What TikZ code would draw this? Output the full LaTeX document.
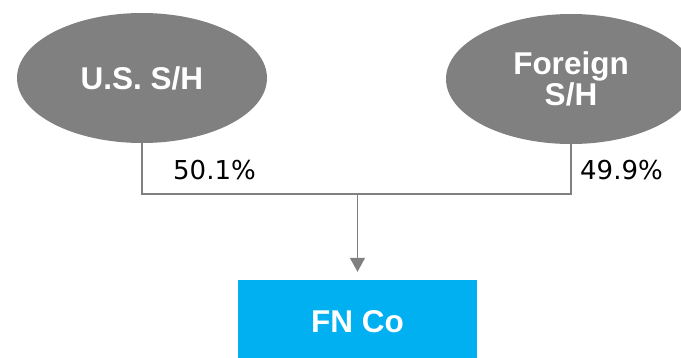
\documentclass[tikz,border=0pt]{standalone}
\usepackage{fontspec}
\setmainfont{Liberation Sans}
\newfontfamily\pctfont{DejaVu Sans}
\usetikzlibrary{shapes.geometric,arrows.meta}
\definecolor{shgray}{HTML}{808080}
\definecolor{fnblue}{HTML}{00B0F0}
\tikzset{
  holder/.style={ellipse, fill=shgray, minimum width=250pt, minimum height=130pt,
    inner sep=0pt, text=white, align=center, font=\bfseries\fontsize{31.5}{31}\selectfont},
  entity/.style={rectangle, fill=fnblue, minimum width=239pt, minimum height=84pt,
    inner sep=0pt, text=white, font=\bfseries\fontsize{31.5}{31}\selectfont},
  pct/.style={anchor=base west, inner sep=0pt, font=\pctfont\fontsize{26}{26}\selectfont},
  link/.style={draw=shgray, line width=1.5pt}
}
\begin{document}
\begin{tikzpicture}[x=1pt,y=-1pt]
    \clip (0,0) rectangle (681,357);

    % Shareholders
    \node[holder] (us) at (142,78) {U.S. S/H};
    \node[holder] (foreign) at (571,79) {Foreign\\S/H};

    % Owned company
    \node[entity] (fnco) at (357.5,322) {FN Co};

    % Ownership percentages
    \node[pct] (uspct) at (173,179) {50.1\%};
    \node[pct] (forpct) at (580,179) {49.9\%};

    % Ownership lines
    \coordinate (bus) at (357.5,194);
    \draw[link] (us.south) |- (bus) -| (foreign.south);
    \draw[link, -{Triangle[width=15pt,length=14pt]}, shorten >=8pt] (bus) -- (fnco.north);

\end{tikzpicture}
\end{document}
